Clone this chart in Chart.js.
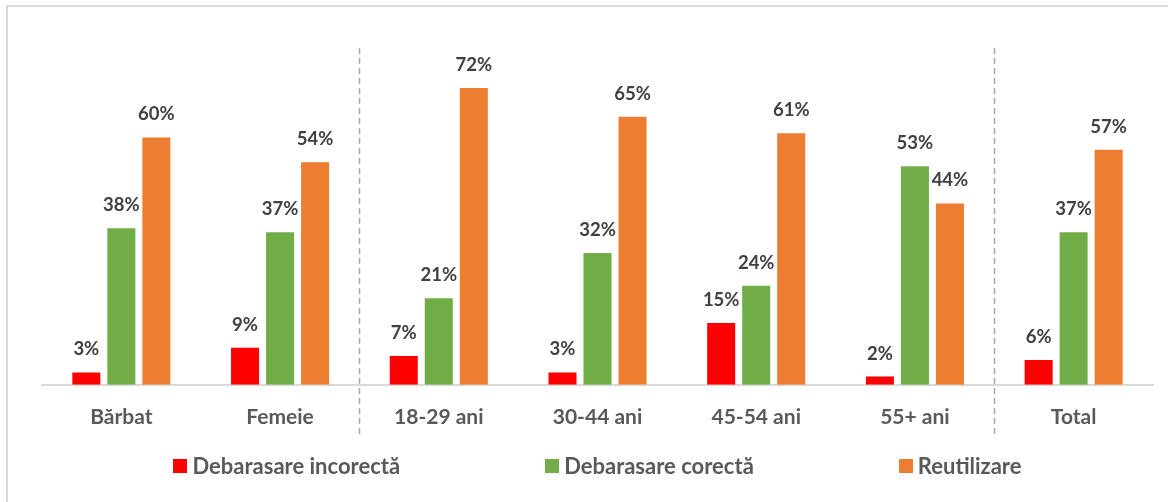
<!DOCTYPE html>
<html>
<head>
<meta charset="utf-8">
<script src="https://cdn.jsdelivr.net/npm/chart.js@4.4.1/dist/chart.umd.min.js"></script>
<style>
  html, body { margin: 0; padding: 0; background: #fff; overflow: hidden; }
  #wrap { position: relative; width: 1168px; height: 502px; }
  #frame { position: absolute; left: 6px; top: 5px; width: 2000px; height: 2000px;
           border-left: 2px solid #d9d9d9; border-top: 2px solid #d9d9d9; box-sizing: border-box; }
  canvas { position: absolute; left: 0; top: 0; }
</style>
</head>
<body>
<div id="wrap">
  <div id="frame"></div>
  <canvas id="c" width="1168" height="502"></canvas>
</div>
<script>
const categories = ["Bărbat", "Femeie", "18-29 ani", "30-44 ani", "45-54 ani", "55+ ani", "Total"];
const seriesNames = ["Debarasare incorectă", "Debarasare corectă", "Reutilizare"];
const incorecta = [3, 9, 7, 3, 15, 2, 6];
const corecta = [38, 37, 21, 32, 24, 53, 37];
const reutilizare = [60, 54, 72, 65, 61, 44, 57];
const colors = ["#FF0000", "#70AD47", "#ED7D31"];
const separatorsAfter = [1, 5];

const FONT = "Lato, 'Open Sans', sans-serif";

const labelPlugin = {
  id: 'valueLabels',
  afterDatasetsDraw(chart) {
    const ctx = chart.ctx;
    ctx.save();
    ctx.font = "bold 18.5px " + FONT;
    ctx.fillStyle = "#404040";
    ctx.textAlign = "center";
    ctx.textBaseline = "middle";
    chart.data.datasets.forEach((ds, di) => {
      const meta = chart.getDatasetMeta(di);
      meta.data.forEach((bar, i) => {
        ctx.fillText(ds.data[i] + "%", bar.x, bar.y - 23);
      });
    });
    ctx.restore();
  }
};

const separatorPlugin = {
  id: 'separators',
  afterDraw(chart) {
    const ctx = chart.ctx;
    const x = chart.scales.x;
    const area = chart.chartArea;
    ctx.save();
    ctx.strokeStyle = "#a6a6a6";
    ctx.lineWidth = 1.5;
    ctx.setLineDash([6, 4]);
    separatorsAfter.forEach(i => {
      const px = Math.round((x.getPixelForValue(i) + x.getPixelForValue(i + 1)) / 2) + 0.5;
      ctx.beginPath();
      ctx.moveTo(px, area.top - 7);
      ctx.lineTo(px, area.bottom + 50);
      ctx.stroke();
    });
    ctx.restore();
  }
};

const legendPlugin = {
  id: 'customLegend',
  afterDraw(chart) {
    const ctx = chart.ctx;
    const area = chart.chartArea;
    const gap = 145, box = 14, textGap = 5;
    ctx.save();
    ctx.font = "bold 22px " + FONT;
    ctx.textBaseline = "middle";
    ctx.textAlign = "left";
    const widths = chart.data.datasets.map(ds => box + textGap + ctx.measureText(ds.label).width);
    const total = widths.reduce((a, b) => a + b, 0) + gap * (widths.length - 1);
    let cx = (area.left + area.right) / 2 - total / 2;
    const cy = area.bottom + 81;
    chart.data.datasets.forEach((ds, i) => {
      ctx.fillStyle = ds.backgroundColor;
      ctx.fillRect(Math.round(cx), Math.round(cy - box / 2), box, box);
      ctx.fillStyle = "#595959";
      ctx.fillText(ds.label, cx + box + textGap, cy + 1);
      cx += widths[i] + gap;
    });
    ctx.restore();
  }
};

const seriesData = [incorecta, corecta, reutilizare];

function build() {
  new Chart(document.getElementById('c'), {
    type: 'bar',
    data: {
      labels: categories,
      datasets: seriesNames.map((name, i) => ({
        label: name,
        data: seriesData[i],
        backgroundColor: colors[i],
        borderWidth: 0,
        categoryPercentage: 0.662,
        barPercentage: 0.8
      }))
    },
    options: {
      responsive: false,
      animation: false,
      layout: { padding: { left: 42, right: 15, top: 55, bottom: 60 } },
      plugins: {
        legend: { display: false },
        tooltip: { enabled: false }
      },
      scales: {
        x: {
          grid: { display: false },
          border: { display: true, color: "#d9d9d9", width: 2 },
          ticks: {
            color: "#595959",
            font: { family: FONT, size: 21, weight: 'bold' },
            padding: 12,
            maxRotation: 0
          }
        },
        y: {
          display: false,
          min: 0,
          max: 80
        }
      }
    },
    plugins: [labelPlugin, separatorPlugin, legendPlugin]
  });
}

Promise.all([
  document.fonts.load("bold 21px Lato"),
  document.fonts.load("bold 22px Lato")
]).then(build, build);
</script>
</body>
</html>
